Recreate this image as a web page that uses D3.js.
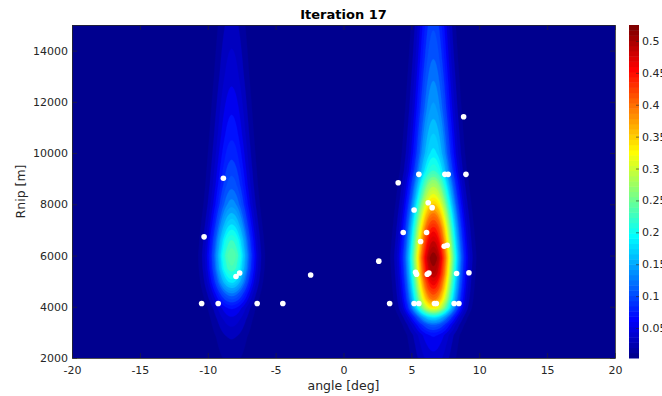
<!DOCTYPE html>
<html>
<head>
<meta charset="utf-8">
<script src="https://cdn.jsdelivr.net/npm/d3@7"></script>
<style>
body { margin: 0; background: #fff; }
text { font-family: "DejaVu Sans", sans-serif; fill: #262626; }
</style>
</head>
<body>
<div id="chart"></div>
<script>
// sampled points: angle [deg] and Rnip [m]
var pointAngle = [-8.85, -10.27, -7.92, -7.65, -10.45, -9.23, -6.36, -4.47, -2.42,
    2.6, 3.4, 4.03, 4.4, 5.2, 5.55, 6.24, 6.53, 6.12, 5.68, 7.42, 7.64,
    5.31, 5.38, 6.17, 6.29, 8.33, 9.24, 7.47, 7.71, 9.02, 8.85,
    5.2, 5.55, 6.7, 6.84, 8.15, 8.5];
var pointRange = [9020, 6730, 5180, 5320, 4130, 4130, 4130, 4130, 5240,
    5780, 4130, 8840, 6900, 7780, 9170, 8060, 7870, 6900, 6550, 6360, 6400,
    5345, 5270, 5270, 5320, 5300, 5330, 9170, 9170, 9170, 11420,
    4130, 4130, 4130, 4130, 4130, 4130];

// the two lobes of the surface: centre angle
var lobeCenter = [-8.24, 6.62];

// angular spread of each lobe at a few Rnip values
var spreadR = [2000, 6000, 15000];
var leftSpread = [1.0, 1.05, 0.8];
var rightSpread = [1.1, 1.2, 0.85];

// peak height of each lobe along Rnip
var leftR = [2000, 2800, 3500, 3950, 4500, 4970, 5500, 6000, 6600, 7300, 8000, 8750, 9700, 10700, 12000, 13050, 15000];
var leftV = [0.02, 0.03, 0.05, 0.07, 0.13, 0.19, 0.235, 0.25, 0.225, 0.18, 0.14, 0.115, 0.095, 0.078, 0.062, 0.05, 0.035];
var rightR = [2000, 2500, 2900, 3300, 3600, 3950, 4300, 4730, 5300, 5900, 6500, 7075, 7600, 8250, 8900, 9300, 10000, 11750, 13700, 15000];
var rightV = [0.05, 0.06, 0.07, 0.12, 0.19, 0.33, 0.40, 0.45, 0.50, 0.525, 0.49, 0.45, 0.40, 0.33, 0.27, 0.225, 0.19, 0.15, 0.12, 0.105];

var xTicks = [-20, -15, -10, -5, 0, 5, 10, 15, 20];
var yTicks = [2000, 4000, 6000, 8000, 10000, 12000, 14000];
var cbarTicks = [0.05, 0.1, 0.15, 0.2, 0.25, 0.3, 0.35, 0.4, 0.45, 0.5];

var cMin = 0.003, cMax = 0.525;

var svgWidth = 662, svgHeight = 396;
var margin = {top: 25, right: 47, bottom: 38, left: 72};
var width = 615 - margin.left;
var height = 358 - margin.top;

var svg = d3.select("#chart").append("svg")
    .attr("width", svgWidth)
    .attr("height", svgHeight);

var chartGroup = svg.append("g")
    .attr("transform", `translate(${margin.left}, ${margin.top})`);

var xScale = d3.scaleLinear().domain([-20, 20]).range([0, width]);
var yScale = d3.scaleLinear().domain([2000, 15000]).range([height, 0]);

// matlab jet, 64 entries
function jet(t) {
    var c = v => Math.round(255 * Math.max(0, Math.min(1, v)));
    return d3.rgb(c(1.5 - Math.abs(4 * t - 3)), c(1.5 - Math.abs(4 * t - 2)), c(1.5 - Math.abs(4 * t - 1)));
}
var jet64 = d3.range(64).map(i => jet((i + 1) / 64).toString());
function colorOf(v) {
    var idx = Math.floor((v - cMin) / (cMax - cMin) * 64);
    return jet64[Math.max(0, Math.min(63, idx))];
}

// build the grid
var nx = 400, ny = 260;
var profiles = [
    d3.scaleLinear().domain(leftR).range(leftV).clamp(true),
    d3.scaleLinear().domain(rightR).range(rightV).clamp(true)
];
var spreads = [
    d3.scaleLinear().domain(spreadR).range(leftSpread).clamp(true),
    d3.scaleLinear().domain(spreadR).range(rightSpread).clamp(true)
];
var grid = new Array(nx * ny);
for (var j = 0; j < ny; j++) {
    var r = 15000 - (j + 0.5) * 13000 / ny;
    for (var i = 0; i < nx; i++) {
        var a = -20 + (i + 0.5) * 40 / nx;
        var v = 0;
        for (var b = 0; b < lobeCenter.length; b++) {
            var d = (a - lobeCenter[b]) / spreads[b](r);
            v += profiles[b](r) * Math.exp(-0.5 * d * d);
        }
        grid[j * nx + i] = v;
    }
}

var step = (cMax - cMin) / 40;
var levels = d3.range(1, 41).map(k => cMin + k * step);

var contours = d3.contours().size([nx, ny]).thresholds(levels)(grid);

var cw = width / nx, ch = height / ny;
var proj = d3.geoTransform({
    point: function(gx, gy) { this.stream.point(gx * cw, gy * ch); }
});
var path = d3.geoPath(proj);

svg.append("clipPath").attr("id", "plotClip")
    .append("rect").attr("width", width).attr("height", height);

var plot = chartGroup.append("g").attr("clip-path", "url(#plotClip)");

plot.append("rect")
    .attr("width", width)
    .attr("height", height)
    .attr("fill", jet64[0]);

plot.selectAll("path.band")
    .data(contours)
    .enter()
    .append("path")
    .attr("class", "band")
    .attr("d", path)
    .attr("fill", d => colorOf(d.value))
    .attr("stroke", d => colorOf(d.value))
    .attr("stroke-width", 0.3);

// sample points
plot.selectAll("circle")
    .data(pointAngle)
    .enter()
    .append("circle")
    .attr("cx", (d, i) => xScale(d))
    .attr("cy", (d, i) => yScale(pointRange[i]))
    .attr("r", 2.8)
    .attr("fill", "white");

// axes, ticks inside like matlab
var axisColor = "#262626";
var plain = d => String(d);
function styleAxis(g) {
    g.select(".domain").attr("stroke", axisColor).attr("stroke-width", 0.8);
    g.selectAll(".tick line").attr("stroke", axisColor).attr("stroke-width", 0.6);
    g.selectAll(".tick text").attr("fill", axisColor)
        .style("font-family", "DejaVu Sans").style("font-size", "11px");
}

chartGroup.append("g")
    .attr("transform", `translate(0, ${height})`)
    .call(d3.axisBottom(xScale).tickValues(xTicks).tickFormat(plain).tickSize(-5).tickPadding(8).tickSizeOuter(0))
    .call(styleAxis);

chartGroup.append("g")
    .call(d3.axisLeft(yScale).tickValues(yTicks).tickFormat(plain).tickSize(-5).tickPadding(4).tickSizeOuter(0))
    .call(styleAxis);

chartGroup.append("g")
    .call(d3.axisTop(xScale).tickValues(xTicks).tickSize(-5).tickFormat("").tickSizeOuter(0))
    .call(styleAxis);

chartGroup.append("g")
    .attr("transform", `translate(${width}, 0)`)
    .call(d3.axisRight(yScale).tickValues(yTicks).tickSize(-5).tickFormat("").tickSizeOuter(0))
    .call(styleAxis);

// title and labels
svg.append("text")
    .attr("x", margin.left + width / 2)
    .attr("y", 19)
    .attr("text-anchor", "middle")
    .style("font-size", "13px")
    .style("font-weight", "bold")
    .style("fill", "#000")
    .text("Iteration 17");

svg.append("text")
    .attr("x", margin.left + width / 2)
    .attr("y", 390)
    .attr("text-anchor", "middle")
    .style("font-size", "12.5px")
    .text("angle [deg]");

svg.append("text")
    .attr("transform", `translate(25, ${margin.top + height / 2}) rotate(-90)`)
    .attr("text-anchor", "middle")
    .style("font-size", "12.5px")
    .text("Rnip [m]");

// colorbar
var cbX = 629, cbW = 10;
var cbScale = d3.scaleLinear().domain([cMin, cMax]).range([358, 25]);
var cbar = svg.append("g");
cbar.selectAll("rect")
    .data(jet64)
    .enter()
    .append("rect")
    .attr("x", cbX)
    .attr("width", cbW)
    .attr("y", (d, i) => cbScale(cMin + (i + 1) * (cMax - cMin) / 64))
    .attr("height", (cbScale(cMin) - cbScale(cMax)) / 64 + 0.5)
    .attr("fill", d => d);

cbar.append("g")
    .attr("transform", `translate(${cbX + cbW}, 0)`)
    .call(d3.axisRight(cbScale).tickValues(cbarTicks).tickSize(-3).tickPadding(3)
        .tickFormat(plain).tickSizeOuter(0))
    .call(styleAxis)
    .call(g => g.select(".domain").remove());
</script>
</body>
</html>
